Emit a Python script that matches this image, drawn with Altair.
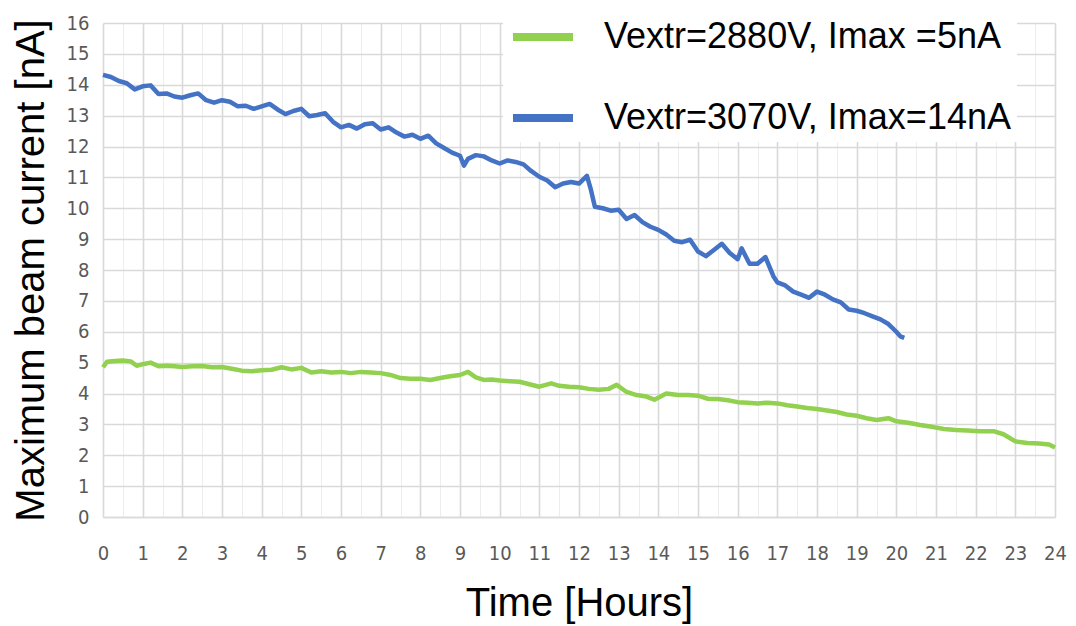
import altair as alt
import pandas as pd

# ---- data ----
blue_hours = [0.0, 0.2, 0.4, 0.6, 0.8, 1.0, 1.2, 1.4, 1.6, 1.8, 2.0, 2.2, 2.4, 2.6, 2.8,
              3.0, 3.2, 3.4, 3.6, 3.8, 4.0, 4.2, 4.4, 4.6, 4.8, 5.0, 5.2, 5.4, 5.6, 5.8,
              6.0, 6.2, 6.4, 6.6, 6.8, 7.0, 7.2, 7.4, 7.6, 7.8, 8.0, 8.2, 8.4, 8.6, 8.8,
              9.0, 9.1, 9.2, 9.4, 9.6, 9.8, 10.0, 10.2, 10.4, 10.6, 10.8, 11.0, 11.2, 11.4,
              11.6, 11.8, 12.0, 12.2, 12.3, 12.4, 12.6, 12.8, 13.0, 13.2, 13.4, 13.6, 13.8,
              14.0, 14.2, 14.4, 14.6, 14.8, 15.0, 15.2, 15.4, 15.6, 15.8, 16.0, 16.1, 16.3,
              16.5, 16.7, 16.9, 17.0, 17.2, 17.4, 17.6, 17.8, 18.0, 18.2, 18.4, 18.6, 18.8,
              19.0, 19.2, 19.4, 19.6, 19.8, 20.0, 20.1, 20.2]
blue_values = [14.32, 14.25, 14.12, 14.05, 13.85, 13.95, 13.98, 13.70, 13.72, 13.62, 13.58,
               13.66, 13.72, 13.50, 13.42, 13.50, 13.45, 13.30, 13.32, 13.22, 13.30, 13.38,
               13.20, 13.05, 13.15, 13.22, 12.98, 13.02, 13.08, 12.80, 12.62, 12.70, 12.58,
               12.72, 12.75, 12.55, 12.62, 12.45, 12.32, 12.38, 12.25, 12.35, 12.10, 11.95,
               11.80, 11.70, 11.38, 11.60, 11.72, 11.68, 11.55, 11.45, 11.55, 11.50, 11.42,
               11.20, 11.02, 10.90, 10.68, 10.80, 10.85, 10.80, 11.05, 10.60, 10.05, 10.00,
               9.92, 9.95, 9.65, 9.78, 9.55, 9.40, 9.30, 9.15, 8.95, 8.90, 8.98, 8.60, 8.45,
               8.65, 8.85, 8.55, 8.35, 8.70, 8.20, 8.20, 8.42, 7.80, 7.60, 7.50, 7.30, 7.20,
               7.10, 7.30, 7.20, 7.05, 6.95, 6.72, 6.68, 6.60, 6.50, 6.40, 6.25, 6.00, 5.85,
               5.80]

green_hours = [0.0, 0.1, 0.3, 0.5, 0.7, 0.85, 1.0, 1.2, 1.4, 1.6, 1.8, 2.0, 2.25, 2.5, 2.75,
               3.0, 3.25, 3.5, 3.75, 4.0, 4.25, 4.5, 4.75, 5.0, 5.25, 5.5, 5.75, 6.0, 6.25,
               6.5, 6.75, 7.0, 7.25, 7.5, 7.75, 8.0, 8.25, 8.5, 8.75, 9.0, 9.2, 9.4, 9.6, 9.8,
               10.0, 10.25, 10.5, 10.75, 11.0, 11.3, 11.5, 11.75, 12.0, 12.25, 12.5, 12.75,
               12.95, 13.2, 13.45, 13.7, 13.9, 14.2, 14.5, 14.75, 15.0, 15.25, 15.5, 15.75,
               16.0, 16.25, 16.5, 16.75, 17.0, 17.25, 17.5, 17.75, 18.0, 18.25, 18.5, 18.75,
               19.0, 19.25, 19.5, 19.8, 20.0, 20.3, 20.6, 20.9, 21.2, 21.5, 21.8, 22.1, 22.45,
               22.7, 23.0, 23.3, 23.6, 23.85, 24.0]
green_values = [4.85, 5.03, 5.05, 5.07, 5.04, 4.90, 4.95, 5.00, 4.88, 4.90, 4.88, 4.86, 4.88,
                4.89, 4.85, 4.86, 4.80, 4.74, 4.72, 4.75, 4.77, 4.85, 4.78, 4.83, 4.68, 4.72,
                4.68, 4.70, 4.66, 4.70, 4.68, 4.66, 4.60, 4.50, 4.48, 4.48, 4.44, 4.50, 4.56,
                4.60, 4.70, 4.52, 4.44, 4.45, 4.42, 4.40, 4.38, 4.30, 4.22, 4.33, 4.25, 4.22,
                4.20, 4.15, 4.12, 4.15, 4.28, 4.05, 3.95, 3.90, 3.80, 4.00, 3.95, 3.95, 3.93,
                3.83, 3.82, 3.78, 3.72, 3.70, 3.68, 3.70, 3.68, 3.62, 3.58, 3.53, 3.50, 3.45,
                3.40, 3.32, 3.28, 3.20, 3.14, 3.20, 3.10, 3.05, 2.98, 2.92, 2.85, 2.82, 2.80,
                2.78, 2.78, 2.68, 2.45, 2.40, 2.38, 2.35, 2.25]

series_labels = ["Vextr=2880V, Imax =5nA", "Vextr=3070V, Imax=14nA"]
series_colors = ["#92D050", "#4472C4"]
x_tick_values = [i * 0.5 for i in range(49)]
y_tick_values = list(range(17))

df = pd.concat([
    pd.DataFrame({"hour": green_hours, "current": green_values, "series": series_labels[0]}),
    pd.DataFrame({"hour": blue_hours, "current": blue_values, "series": series_labels[1]}),
])

TICK_FONT = "Liberation Sans Narrow, DejaVu Sans Condensed, sans-serif"
TITLE_FONT = "Liberation Sans, Arial, sans-serif"

grid_color = {"condition": {"test": "datum.value % 1 != 0", "value": "#ededed"}, "value": "#d9d9d9"}
grid_width = {"condition": {"test": "datum.value % 1 != 0", "value": 1}, "value": 1.6}

chart = alt.Chart(df).mark_line(strokeWidth=4.5, strokeJoin="round").encode(
    x=alt.X("hour:Q",
            scale=alt.Scale(domain=[0, 24], nice=False, zero=False),
            axis=alt.Axis(values=x_tick_values,
                          labelExpr="datum.value % 1 ? '' : format(datum.value, 'd')",
                          title="Time [Hours]", gridColor=grid_color, gridWidth=grid_width,
                          labelOverlap=False, labelFlush=False, labelPadding=26,
                          titlePadding=20,
                          domain=True, domainColor="#d9d9d9", domainWidth=1.6)),
    y=alt.Y("current:Q",
            scale=alt.Scale(domain=[0, 16], nice=False),
            axis=alt.Axis(values=y_tick_values, format="d",
                          title="Maximum beam current [nA]", labelFlush=False,
                          labelPadding=14, titlePadding=15, domain=False,
                          gridColor="#d9d9d9", gridWidth=1.6)),
    color=alt.Color("series:N",
                    scale=alt.Scale(domain=series_labels, range=series_colors),
                    legend=alt.Legend(orient="none", legendX=400, legendY=-26, title=None,
                                      symbolType="stroke", symbolSize=3600,
                                      symbolStrokeWidth=8, labelFontSize=36,
                                      labelFont=TITLE_FONT, labelColor="black",
                                      labelOffset=27, rowPadding=29, padding=6,
                                      fillColor="white", labelLimit=600)),
).properties(
    width=952, height=494,
    background="white",
    autosize=alt.AutoSizeParams(type="none"),
    padding={"left": 103, "top": 23, "right": 21, "bottom": 109},
).configure_axis(
    ticks=False,
    labelFont=TICK_FONT, labelFontSize=20, labelColor="#595959",
    titleFont=TITLE_FONT, titleFontSize=40, titleFontWeight="normal", titleColor="black",
).configure_view(stroke=None)

chart.save("out.html", embed_options={"renderer": "svg", "actions": False})
